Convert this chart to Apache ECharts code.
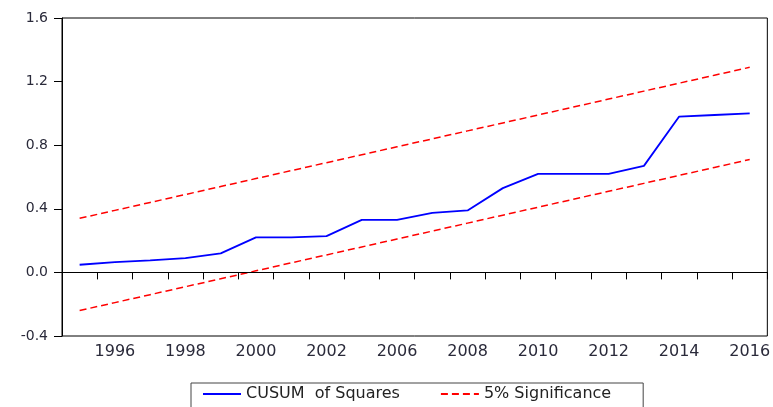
<!DOCTYPE html>
<html>
<head>
<meta charset="utf-8">
<script src="https://cdn.jsdelivr.net/npm/echarts@6/dist/echarts.min.js"></script>
<style>
html,body{margin:0;padding:0;background:#fff;}
#chart{width:773px;height:407px;}
</style>
</head>
<body>
<div id="chart"></div>
<script>
var categories = ['1995','1996','1997','1998','1999','2000','2001','2002','2005','2006','2007','2008','2009','2010','2011','2012','2013','2014','2015','2016'];
var cusumSq = [0.048,0.065,0.075,0.09,0.12,0.22,0.22,0.228,0.33,0.33,0.375,0.39,0.53,0.62,0.62,0.62,0.67,0.98,0.99,1.0];
var upperBound = [0.34,0.39,0.44,0.49,0.54,0.59,0.64,0.69,0.74,0.79,0.84,0.89,0.94,0.99,1.04,1.09,1.14,1.19,1.24,1.29];
var lowerBound = [-0.24,-0.19,-0.14,-0.09,-0.04,0.01,0.06,0.11,0.16,0.21,0.26,0.31,0.36,0.41,0.46,0.51,0.56,0.61,0.66,0.71];
var yTicks = {min: -0.4, max: 1.6, interval: 0.4};
var names = ['CUSUM  of Squares', '5% Significance'];

var font = 'DejaVu Sans, Verdana, sans-serif';
var txt = '#2a2a3a';
var chart = echarts.init(document.getElementById('chart'), null, {renderer: 'canvas'});
chart.setOption({
  animation: false,
  backgroundColor: '#fff',
  grid: {left: 62, right: 3, top: 18, bottom: 71, show: true, borderColor: '#000', borderWidth: 1, backgroundColor: 'transparent'},
  legend: {
    data: names,
    left: 191, top: 383,
    orient: 'horizontal',
    borderColor: '#444', borderWidth: 1,
    padding: [3, 32, 8, 11],
    itemWidth: 38, itemHeight: 14, itemGap: 40,
    itemStyle: {opacity: 0, color: 'transparent', borderColor: 'transparent', borderWidth: 0},
    textStyle: {fontFamily: font, fontSize: 16, color: '#222'}
  },
  xAxis: {
    type: 'category',
    data: categories,
    boundaryGap: true,
    axisLine: {lineStyle: {color: '#000', width: 1}},
    axisTick: {show: true, interval: 0, length: 7, lineStyle: {color: '#000', width: 1}},
    axisLabel: {interval: function (i) { return i % 2 === 1; }, fontFamily: font, fontSize: 16, color: txt, margin: 8},
    splitLine: {show: false}
  },
  yAxis: {
    type: 'value',
    min: yTicks.min, max: yTicks.max, interval: yTicks.interval,
    axisLine: {show: true, lineStyle: {color: '#000', width: 1}},
    axisTick: {show: true, length: 8, lineStyle: {color: '#000', width: 1}},
    axisLabel: {fontFamily: font, fontSize: 14, color: txt, margin: 14, formatter: function (v) { return v.toFixed(1); }},
    splitLine: {show: false}
  },
  series: [
    {
      name: names[0], type: 'line', data: cusumSq, symbol: 'none',
      lineStyle: {color: '#0000ff', width: 1.8}, itemStyle: {color: '#0000ff'},
      z: 3,
      markLine: {
        silent: true, symbol: 'none', label: {show: false},
        lineStyle: {color: '#000', width: 1, type: 'solid'},
        data: [{yAxis: 0}]
      }
    },
    {
      name: names[1], type: 'line', data: upperBound, symbol: 'none',
      lineStyle: {color: '#ff0000', width: 1.5, type: [7, 4]}, itemStyle: {color: '#ff0000'}
    },
    {
      name: names[1], type: 'line', data: lowerBound, symbol: 'none',
      lineStyle: {color: '#ff0000', width: 1.5, type: [7, 4]}, itemStyle: {color: '#ff0000'}
    }
  ]
});
</script>
</body>
</html>
